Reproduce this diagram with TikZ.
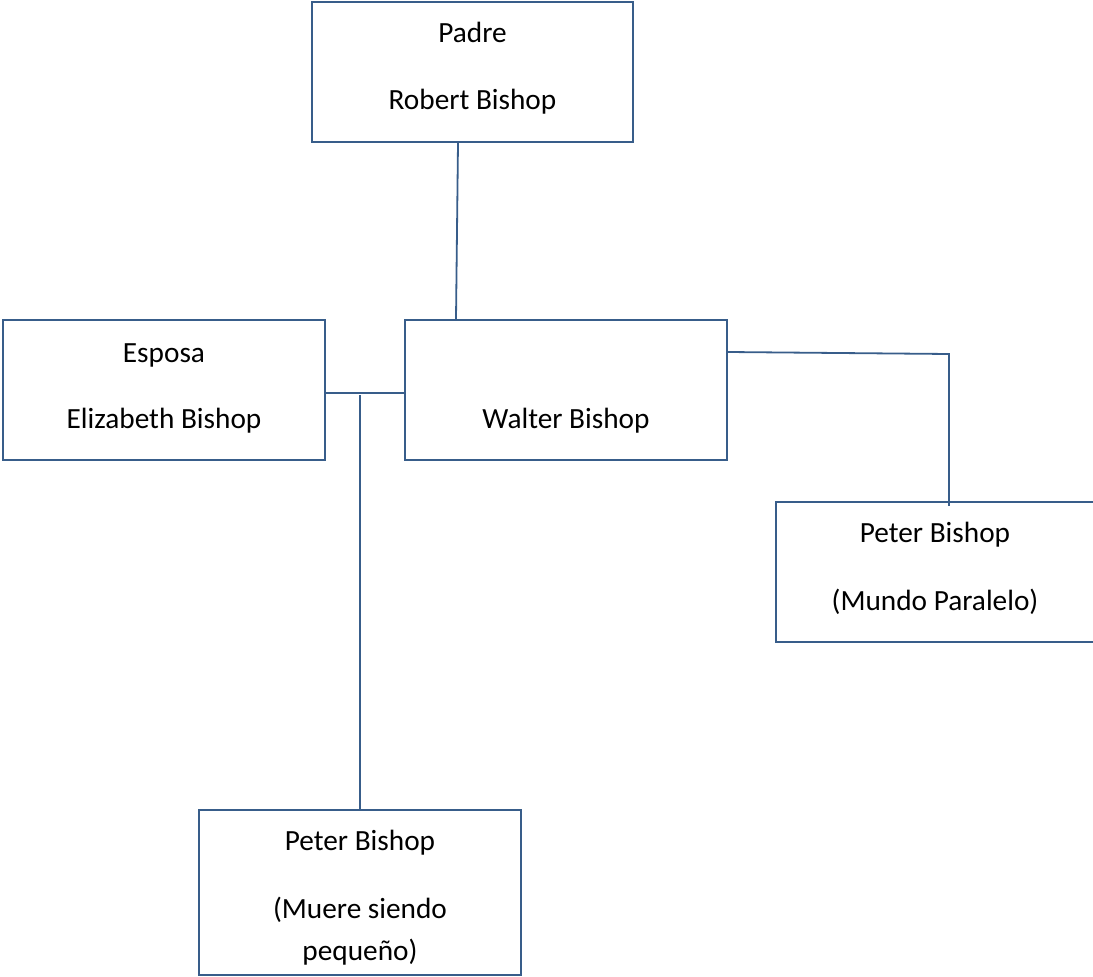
\documentclass[tikz,border=0pt]{standalone}
\usepackage{fontspec}
\setmainfont{Carlito}
\usetikzlibrary{calc}
\definecolor{lineblue}{HTML}{385D8A}
\tikzset{
  box/.style={draw=lineblue, line width=2.2pt, rectangle, inner sep=0pt, minimum width=322pt, minimum height=140pt},
  lbl/.style={anchor=base, inner sep=0pt, font=\fontsize{29.3}{35}\selectfont},
  conn/.style={draw=lineblue, line width=1.8pt}
}
\begin{document}
\begin{tikzpicture}[x=1pt,y=-1pt]
\path[use as bounding box] (0,0) rectangle (1093,977);
% boxes
\node[box, minimum width=321pt] (padre) at (472.5,72) {};
\node[box] (esposa) at (164,390) {};
\node[box] (walter) at (566,390) {};
\node[box, minimum width=318pt] (par) at (935,572) {};
\node[box, minimum height=165pt] (hijo) at (360,892.5) {};
% texts
\node[lbl] (t1) at (472.5,42) {Padre};
\node[lbl] (t2) at (472.5,109) {Robert Bishop};
\node[lbl] (t3) at (164,362) {Esposa};
\node[lbl] (t4) at (164,428) {Elizabeth Bishop};
\node[lbl] (t5) at (566,428) {Walter Bishop};
\node[lbl] (t6) at (935,542) {Peter Bishop};
\node[lbl] (t7) at (935,610) {(Mundo Paralelo)};
\node[lbl] (t8) at (360,850) {Peter Bishop};
\node[lbl] (t9) at (360,918) {(Muere siendo};
\node[lbl] (t10) at (360,960) {pequeño)};
% connectors
\coordinate (m) at (360,395);
\coordinate (c1) at (949,354);
\draw[conn] ([xshift=-14.5pt]padre.south) -- ([xshift=-110pt]walter.north);
\draw[conn] ([yshift=-3pt]esposa.east) -- ([yshift=-3pt]walter.west);
\draw[conn] (m) -- (hijo.north);
\draw[conn] ([yshift=38pt]walter.east) -- (c1) -- ([xshift=14pt,yshift=-5pt]par.north);
\end{tikzpicture}
\end{document}
